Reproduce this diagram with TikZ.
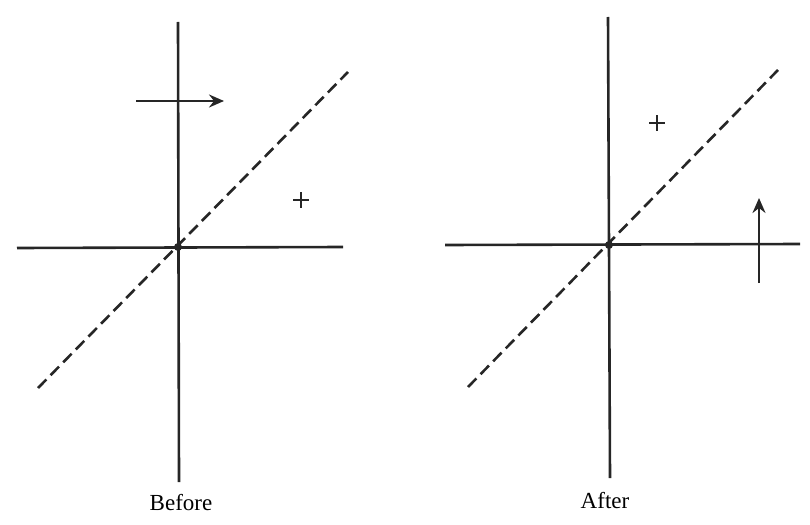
\documentclass[tikz,border=0pt]{standalone}
\usepackage{fontspec}
\setmainfont{Liberation Serif}
\usetikzlibrary{arrows.meta}
\begin{document}
\begin{tikzpicture}[x=1pt,y=-1pt,
  axis/.style={line width=2.6pt,draw=black!85},
  diag/.style={line width=2.6pt,draw=black!85,dash pattern=on 12pt off 6pt},
  arr/.style={line width=2.4pt,draw=black!85,-{Stealth[length=15pt,width=13pt,inset=5pt]}},
  plus/.style={line width=2.4pt,draw=black!85},
  lbl/.style={font=\fontsize{23}{26}\selectfont}]
\useasboundingbox (0,0) rectangle (810,524);
% left panel
\coordinate (lt) at (178,22); \coordinate (lb) at (179,482);
\coordinate (ll) at (17,248); \coordinate (lr) at (343,247);
\coordinate (ld1) at (38,388); \coordinate (ld2) at (348,72);
\coordinate (lo) at (178,247);
\draw[axis] (lt) -- (lb);
\draw[axis] (ll) -- (lr);
\draw[diag] (ld1) -- (ld2);
\fill[black!85] (lo) circle (4pt);
\coordinate (la1) at (136,101); \coordinate (la2) at (224,101);
\draw[arr] (la1) -- (la2);
\draw[plus] (293,200) -- (309,200) (301,192) -- (301,208);
\node[lbl] (before) at (181,503) {Before};
% right panel
\coordinate (rt) at (608,17); \coordinate (rb) at (610,478);
\coordinate (rl) at (445,245); \coordinate (rr) at (800,244);
\coordinate (rd1) at (468,387); \coordinate (rd2) at (778,70);
\coordinate (ro) at (609,245);
\draw[axis] (rt) -- (rb);
\draw[axis] (rl) -- (rr);
\draw[diag] (rd1) -- (rd2);
\fill[black!85] (ro) circle (4pt);
\coordinate (ra1) at (759,283); \coordinate (ra2) at (759,198);
\draw[arr] (ra1) -- (ra2);
\draw[plus] (649,123) -- (665,123) (657,115) -- (657,131);
\node[lbl] (after) at (605,501) {After};
\end{tikzpicture}
\end{document}
